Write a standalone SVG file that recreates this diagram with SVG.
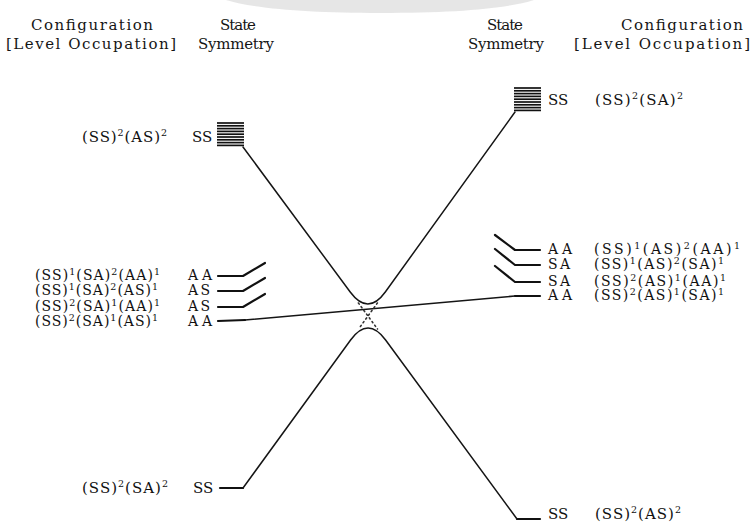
<svg xmlns="http://www.w3.org/2000/svg" width="756" height="528" viewBox="0 0 756 528">
  <style>
    .t { font-family: "DejaVu Serif", "Liberation Serif", serif; font-size: 15px; fill: #111; }
    .r { font-family: "DejaVu Serif", "Liberation Serif", serif; font-size: 14px; fill: #111; }
    .h { font-family: "DejaVu Serif", "Liberation Serif", serif; font-size: 15px; fill: #151515; }
    .s { font-size: 9.5px; }
    .stub { fill: none; stroke: #111; stroke-width: 2.2; stroke-linejoin: round; stroke-linecap: round; }
    .curve { fill: none; stroke: #151515; stroke-width: 1.5; stroke-linejoin: round; stroke-linecap: round; }
    .dots { fill: none; stroke: #333; stroke-width: 1.6; stroke-dasharray: 1.4 3.2; stroke-linecap: round; }
    .hatch { stroke: #111; stroke-width: 1.7; }
  </style>
  <defs>
    <!-- stack of closely spaced levels (band) -->
    <g id="band">
      <line class="hatch" x1="0" y1="1" x2="27" y2="1"/>
      <line class="hatch" x1="0" y1="3.8" x2="27" y2="3.8"/>
      <line class="hatch" x1="0" y1="6.6" x2="27" y2="6.6"/>
      <line class="hatch" x1="0" y1="9.4" x2="27" y2="9.4"/>
      <line class="hatch" x1="0" y1="12.2" x2="27" y2="12.2"/>
      <line class="hatch" x1="0" y1="15" x2="27" y2="15"/>
      <line class="hatch" x1="0" y1="17.8" x2="27" y2="17.8"/>
      <line class="hatch" x1="0" y1="20.6" x2="27" y2="20.6"/>
      <line class="hatch" x1="0" y1="23.4" x2="27" y2="23.4"/>
    </g>
  </defs>

  <rect width="756" height="528" fill="#ffffff"/>
  <!-- faint smudge along the top edge -->
  <path d="M226,0 C255,9 310,13 380,13 C455,13 505,9 534,0 Z" fill="#dcdcdc" opacity="0.7"/>

  <!-- column headings -->
  <g id="headings">
    <text class="h" x="92" y="30" text-anchor="middle" textLength="122">Configuration</text>
    <text class="h" x="91" y="49" text-anchor="middle" textLength="170">[Level Occupation]</text>
    <text class="h" x="238" y="30" text-anchor="middle" textLength="36">State</text>
    <text class="h" x="236" y="49" text-anchor="middle" textLength="76">Symmetry</text>
    <text class="h" x="505" y="30" text-anchor="middle" textLength="36">State</text>
    <text class="h" x="506" y="49" text-anchor="middle" textLength="76">Symmetry</text>
    <text class="h" x="682" y="30" text-anchor="middle" textLength="122">Configuration</text>
    <text class="h" x="662" y="49" text-anchor="middle" textLength="176">[Level Occupation]</text>
  </g>

  <!-- left-hand levels -->
  <g id="left-ss-as">
    <text class="t" x="82" y="142" textLength="85">(SS)<tspan class="s" dy="-6">2</tspan><tspan dy="6">(AS)</tspan><tspan class="s" dy="-6">2</tspan></text>
    <text class="t" x="192" y="142">SS</text>
    <use href="#band" x="217" y="122"/>
  </g>
  <g id="left-aa-1">
    <text class="r" x="35" y="280" textLength="125">(SS)<tspan class="s" dy="-5">1</tspan><tspan dy="5">(SA)</tspan><tspan class="s" dy="-5">2</tspan><tspan dy="5">(AA)</tspan><tspan class="s" dy="-5">1</tspan></text>
    <text class="r" x="188" y="280" textLength="24">AA</text>
    <polyline class="stub" points="218,276 243,276 265,263"/>
  </g>
  <g id="left-as-1">
    <text class="r" x="35" y="295" textLength="123">(SS)<tspan class="s" dy="-5">1</tspan><tspan dy="5">(SA)</tspan><tspan class="s" dy="-5">2</tspan><tspan dy="5">(AS)</tspan><tspan class="s" dy="-5">1</tspan></text>
    <text class="r" x="188" y="295" textLength="22">AS</text>
    <polyline class="stub" points="218,291 243,291 265,278"/>
  </g>
  <g id="left-as-2">
    <text class="r" x="35" y="311" textLength="125">(SS)<tspan class="s" dy="-5">2</tspan><tspan dy="5">(SA)</tspan><tspan class="s" dy="-5">1</tspan><tspan dy="5">(AA)</tspan><tspan class="s" dy="-5">1</tspan></text>
    <text class="r" x="188" y="311" textLength="22">AS</text>
    <polyline class="stub" points="218,307 243,307 265,294"/>
  </g>
  <g id="left-aa-2">
    <text class="r" x="35" y="326" textLength="123">(SS)<tspan class="s" dy="-5">2</tspan><tspan dy="5">(SA)</tspan><tspan class="s" dy="-5">1</tspan><tspan dy="5">(AS)</tspan><tspan class="s" dy="-5">1</tspan></text>
    <text class="r" x="188" y="326" textLength="24">AA</text>
    <line class="stub" x1="218" y1="321" x2="245" y2="320"/>
  </g>
  <g id="left-ss-sa">
    <text class="t" x="82" y="493" textLength="86">(SS)<tspan class="s" dy="-6">2</tspan><tspan dy="6">(SA)</tspan><tspan class="s" dy="-6">2</tspan></text>
    <text class="t" x="193" y="493">SS</text>
    <line class="stub" x1="220" y1="488" x2="243" y2="488"/>
  </g>

  <!-- right-hand levels -->
  <g id="right-ss-sa">
    <use href="#band" x="514" y="87"/>
    <text class="t" x="548" y="105">SS</text>
    <text class="t" x="595" y="105" textLength="88">(SS)<tspan class="s" dy="-6">2</tspan><tspan dy="6">(SA)</tspan><tspan class="s" dy="-6">2</tspan></text>
  </g>
  <g id="right-aa-1">
    <polyline class="stub" points="495,235 515,250 540,250"/>
    <text class="r" x="548" y="254" textLength="24">AA</text>
    <text class="r" x="594" y="254" textLength="146">(SS)<tspan class="s" dy="-5">1</tspan><tspan dy="5">(AS)</tspan><tspan class="s" dy="-5">2</tspan><tspan dy="5">(AA)</tspan><tspan class="s" dy="-5">1</tspan></text>
  </g>
  <g id="right-sa-1">
    <polyline class="stub" points="495,249 515,265 540,265"/>
    <text class="r" x="548" y="269" textLength="22">SA</text>
    <text class="r" x="594" y="269" textLength="130">(SS)<tspan class="s" dy="-5">1</tspan><tspan dy="5">(AS)</tspan><tspan class="s" dy="-5">2</tspan><tspan dy="5">(SA)</tspan><tspan class="s" dy="-5">1</tspan></text>
  </g>
  <g id="right-sa-2">
    <polyline class="stub" points="495,266 515,282 540,282"/>
    <text class="r" x="548" y="286" textLength="22">SA</text>
    <text class="r" x="594" y="286" textLength="132">(SS)<tspan class="s" dy="-5">2</tspan><tspan dy="5">(AS)</tspan><tspan class="s" dy="-5">1</tspan><tspan dy="5">(AA)</tspan><tspan class="s" dy="-5">1</tspan></text>
  </g>
  <g id="right-aa-2">
    <line class="stub" x1="515" y1="296" x2="540" y2="296"/>
    <text class="r" x="548" y="300" textLength="24">AA</text>
    <text class="r" x="594" y="300" textLength="130">(SS)<tspan class="s" dy="-5">2</tspan><tspan dy="5">(AS)</tspan><tspan class="s" dy="-5">1</tspan><tspan dy="5">(SA)</tspan><tspan class="s" dy="-5">1</tspan></text>
  </g>
  <g id="right-ss-as">
    <line class="stub" x1="517" y1="519" x2="540" y2="519"/>
    <text class="t" x="548" y="519">SS</text>
    <text class="t" x="595" y="519" textLength="86">(SS)<tspan class="s" dy="-6">2</tspan><tspan dy="6">(AS)</tspan><tspan class="s" dy="-6">2</tspan></text>
  </g>

  <!-- correlation lines -->
  <g id="connectors">
    <!-- upper branch of the avoided crossing -->
    <path class="curve" d="M243,147 L350.2,292 Q368,316 385.3,292 L515,112"/>
    <!-- lower branch of the avoided crossing -->
    <path class="curve" d="M243,488 L350.6,340 Q368,316 385.6,340 L517,519"/>
    <!-- AA to AA correlation -->
    <path class="curve" d="M245,320 L515,296"/>
    <!-- non-crossing continuation shown dotted -->
    <line class="dots" x1="358.4" y1="303" x2="377.5" y2="329"/>
    <line class="dots" x1="377.4" y1="303" x2="358.6" y2="329"/>
  </g>
</svg>
